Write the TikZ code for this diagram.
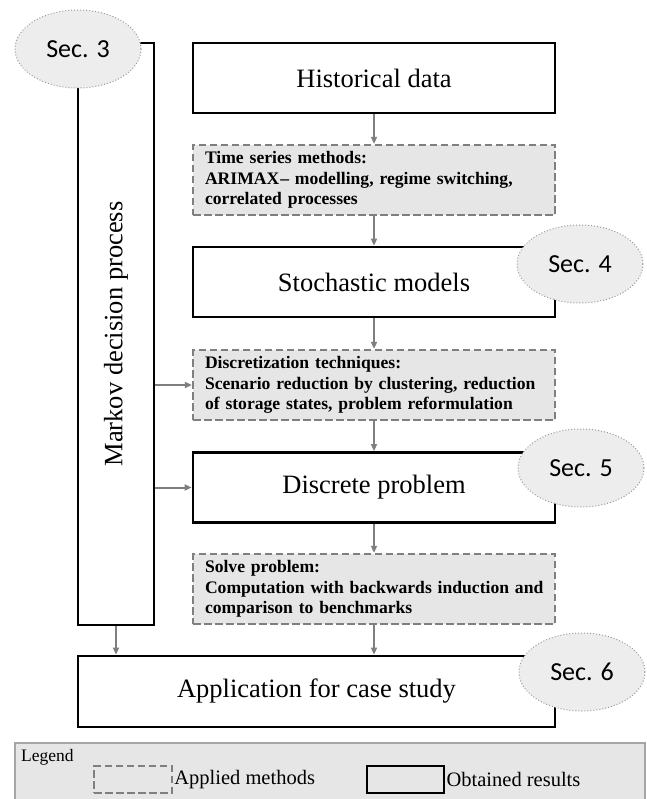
\documentclass[tikz,border=0pt]{standalone}
\usepackage{fontspec}
\setmainfont{Liberation Serif}
\newfontfamily\secfont{Carlito}
\usetikzlibrary{arrows.meta,positioning,shapes.geometric}

\definecolor{methodfill}{HTML}{E7E6E6}
\definecolor{methodline}{HTML}{7F7F7F}
\definecolor{secfill}{HTML}{EDEDED}
\definecolor{secline}{HTML}{9A9A9A}
\definecolor{legendfill}{HTML}{E6E6E6}
\definecolor{legendline}{HTML}{A6A6A6}

\tikzset{
  result/.style={draw=black,line width=2.8pt,fill=white,inner sep=0pt,
    minimum width=362pt,minimum height=70pt,
    font=\fontsize{26.5}{30}\selectfont},
  method/.style={draw=methodline,fill=methodfill,line width=2.3pt,
    dash pattern=on 7.5pt off 3.5pt,inner xsep=12pt,inner ysep=0pt,
    text width=338pt,align=left,minimum height=70pt,
    font=\fontsize{17.6}{20.5}\selectfont\bfseries},
  secmark/.style={ellipse,draw=secline,fill=secfill,line width=1pt,dotted,
    minimum width=126pt,minimum height=78pt,inner sep=0pt,
    font=\secfont\fontsize{26}{30}\selectfont},
  flow/.style={draw=methodline,line width=2pt,-{Triangle[length=7pt,width=6pt]}}
}

\begin{document}
\begin{tikzpicture}[x=1pt,y=-1pt]
\fill[white] (0,0) rectangle (646,799);
\clip (0,0) rectangle (646,799);

% process frame on the left
\node[draw=black,line width=2.8pt,fill=white,minimum width=76pt,minimum height=582pt,inner sep=0pt] (markov) at (116,334) {};
\node[rotate=90,font=\fontsize{26.5}{30}\selectfont] (markovtxt) at (markov.center) {Markov decision process};

% main chain
\node[result] (hist) at (374,78) {Historical data};
\node[method] (tsm) at (374,180) {Time series methods:\\ARIMAX\kern1pt-- modelling, regime switching,\\correlated processes};
\node[result] (stoch) at (374,282) {Stochastic models};
\node[method] (disc) at (374,385) {Discretization techniques:\\\mbox{Scenario reduction by clustering, reduction}\\of storage states, problem reformulation};
\node[result] (dprob) at (374,487.5) {Discrete problem};
\node[method] (solve) at (374,589) {Solve problem:\\\mbox{Computation with backwards induction and}\\comparison to benchmarks};
\node[result,minimum width=477pt,minimum height=71pt] (app) at (316.5,691.5) {Application for case study};

% arrows
\draw[flow] (hist) -- (tsm);
\draw[flow] (tsm) -- (stoch);
\draw[flow] (stoch) -- (disc);
\draw[flow] (disc) -- (dprob);
\draw[flow] (dprob) -- (solve);
\draw[flow] (solve.south) -- (solve.south |- app.north);
\draw[flow] (markov.east |- disc.west) -- (disc.west);
\draw[flow] (markov.east |- dprob.west) -- (dprob.west);
\draw[flow] (markov.south) -- (markov.south |- app.north);

% section marks
\node[secmark] (sec3) at (78,49) {Sec. 3};
\node[secmark] (sec4) at (580,264) {Sec. 4};
\node[secmark] (sec5) at (581,468) {Sec. 5};
\node[secmark] (sec6) at (582,672) {Sec. 6};

% legend
\node[draw=legendline,fill=legendfill,line width=1.2pt,minimum width=630pt,minimum height=70pt,inner sep=0pt] (legend) at (330,778) {};
\node[font=\fontsize{17.5}{20}\selectfont,anchor=west,inner sep=0pt] (legtitle) at (21,757) {Legend};
\node[draw=methodline,line width=2.3pt,dash pattern=on 7.5pt off 3.5pt,minimum width=78pt,minimum height=27pt,inner sep=0pt] (legm) at (133,779.5) {};
\node[font=\fontsize{20.5}{24}\selectfont,right=1pt of legm,inner sep=0pt] (legmtxt) {Applied methods};
\node[draw=black,line width=2.8pt,minimum width=77pt,minimum height=27pt,inner sep=0pt] (legr) at (405.5,779.5) {};
\node[font=\fontsize{20.5}{24}\selectfont,right=1pt of legr,inner sep=0pt] (legrtxt) {Obtained results};
\end{tikzpicture}
\end{document}
